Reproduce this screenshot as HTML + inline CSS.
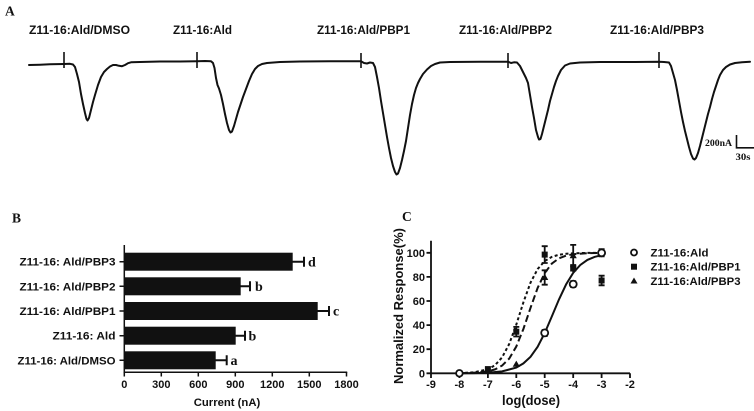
<!DOCTYPE html>
<html><head><meta charset="utf-8"><style>
html,body{margin:0;padding:0;background:#fff;}
svg{display:block;}
.sans{font-family:"Liberation Sans",Arial,sans-serif;font-weight:bold;}
.serif{font-family:"Liberation Serif","Times New Roman",serif;font-weight:bold;}
</style></head><body>
<svg width="754" height="411" viewBox="0 0 754 411" xmlns="http://www.w3.org/2000/svg">
<rect width="754" height="411" fill="#fff"/>

<!-- Panel A -->
<text x="5" y="15.5" class="serif" font-size="13.5" fill="#111">A</text>
<g class="sans" font-size="12" fill="#111">
<text x="29" y="34" textLength="101" lengthAdjust="spacingAndGlyphs">Z11-16:Ald/DMSO</text>
<text x="173" y="34" textLength="59" lengthAdjust="spacingAndGlyphs">Z11-16:Ald</text>
<text x="317" y="34" textLength="93" lengthAdjust="spacingAndGlyphs">Z11-16:Ald/PBP1</text>
<text x="459" y="34" textLength="93" lengthAdjust="spacingAndGlyphs">Z11-16:Ald/PBP2</text>
<text x="610" y="34" textLength="94" lengthAdjust="spacingAndGlyphs">Z11-16:Ald/PBP3</text>
</g>
<path fill="none" stroke="#111" stroke-width="2" stroke-linejoin="round" stroke-linecap="round" d="M29,65 L40,64.7 L50,64.3 L64,64 L70,63.8 L73,64.5 L75,67 L77,74 L79,82 L81,94 L83,104 L85,113 L86.5,119 L87.5,120.5 L89,118 L91,110 L93,102 L95,95 L98,85 L101,77 L104,72 L107,69 L110,66.5 L113,65 L116,65 L119,65.8 L122,66.2 L125,65 L128,63.2 L131,62.3 L140,62 L160,61.5 L180,61.5 L197,61.2 L205,61 L211,61.2 L213,63 L214.5,68 L216,78 L217.5,85 L219,88.5 L221,95 L223,104 L225,114 L227,123 L229,130 L230.5,132.5 L232,131.5 L234,126 L236,119 L238,112 L240,106 L243,97 L246,89 L249,81 L252,74 L255,69 L258,66 L262,64 L267,63 L280,62 L300,61.5 L330,61.3 L361,61.3 L364,63 L367,63.5 L370,62.5 L373,63 L375,67 L377,77 L379,88 L381,101 L383,113 L385,125 L387,137 L389,148 L391,158 L393,166 L395,172 L396.5,174.5 L398,173.5 L400,168 L402,160 L404,151 L406,141 L408,128 L410,115 L412,104 L414,95 L416,88 L418,83 L420,79 L423,74 L427,69.5 L431,66 L435,64 L440,62.5 L450,62 L480,61.8 L508,61.7 L511,63 L514,62.3 L517,62.5 L520,66 L523,72 L526,78 L528,83 L530,95 L532,107 L534,118 L536,130 L538,137 L539,139.5 L540.5,139 L542,134 L544,126 L546,118 L548,110 L550,101 L552,94 L554,87 L556,81 L558,76 L561,70 L565,65.5 L570,63.5 L580,62.5 L600,62 L630,62 L659,61.8 L664,62 L669,62.5 L671,66 L673,73 L675,80 L677,90 L679,101 L681,112 L683,122 L685,131 L687,139 L689,147 L691,154 L693,158.5 L694.5,159.5 L696,158 L698,153 L700,146 L702,138 L704,130 L706,122 L708,114 L710,107 L712,99 L714,92 L716,86 L718,80 L720,75 L723,70 L726,67 L730,64.5 L735,63 L742,62.3 L750,61.8"/>
<g stroke="#111" stroke-width="1.6">
<line x1="64" y1="52" x2="64" y2="68"/>
<line x1="197" y1="52" x2="197" y2="68"/>
<line x1="361" y1="53" x2="361" y2="68"/>
<line x1="508" y1="53" x2="508" y2="68"/>
<line x1="659" y1="52" x2="659" y2="68"/>
</g>
<!-- scale bar -->
<path d="M736.5,135 L736.5,147.8 L754,147.8" fill="none" stroke="#111" stroke-width="1.6"/>
<text x="705" y="146" class="serif" font-size="9" fill="#111" textLength="27" lengthAdjust="spacingAndGlyphs">200nA</text>
<text x="735.5" y="160" class="serif" font-size="9" fill="#111" textLength="15" lengthAdjust="spacingAndGlyphs">30s</text>

<!-- Panel B -->
<text x="12" y="222.5" class="serif" font-size="13.5" fill="#111">B</text>
<g fill="#111">
<rect x="124.3" y="252.7" width="168.4" height="18"/>
<rect x="124.3" y="277.3" width="116.4" height="18"/>
<rect x="124.3" y="302" width="193.4" height="18"/>
<rect x="124.3" y="326.7" width="111.4" height="18"/>
<rect x="124.3" y="351.3" width="91.4" height="18"/>
</g>
<g stroke="#111" stroke-width="2" fill="none">
<path d="M292,261.7 H304 M304,256.7 V266.7"/>
<path d="M240,286.3 H250 M250,281.3 V291.3"/>
<path d="M317,311 H329 M329,306 V316"/>
<path d="M235,335.7 H245 M245,330.7 V340.7"/>
<path d="M215,360.3 H226.7 M226.7,355.3 V365.3"/>
</g>
<g class="serif" font-size="14" fill="#111">
<text x="308" y="266.5">d</text>
<text x="255" y="291">b</text>
<text x="333" y="315.5">c</text>
<text x="248.5" y="340.5">b</text>
<text x="230.5" y="365">a</text>
</g>
<g stroke="#111" stroke-width="1.5" fill="none">
<path d="M124.3,245 V372.3 H347.2"/>
<path d="M124.3,372 V376.5 M161.3,372 V376.5 M198.3,372 V376.5 M235.3,372 V376.5 M272.3,372 V376.5 M309.3,372 V376.5 M346.5,372 V376.5"/>
<path d="M119.5,261.7 H124.3 M119.5,286.3 H124.3 M119.5,311 H124.3 M119.5,335.7 H124.3 M119.5,360.3 H124.3"/>
</g>
<g class="sans" font-size="11.3" fill="#111" text-anchor="end">
<text x="115.5" y="265.7" textLength="96" lengthAdjust="spacingAndGlyphs">Z11-16: Ald/PBP3</text>
<text x="115.5" y="290.3" textLength="96" lengthAdjust="spacingAndGlyphs">Z11-16: Ald/PBP2</text>
<text x="115.5" y="315" textLength="96" lengthAdjust="spacingAndGlyphs">Z11-16: Ald/PBP1</text>
<text x="115.5" y="339.7" textLength="63" lengthAdjust="spacingAndGlyphs">Z11-16: Ald</text>
<text x="115.5" y="364.3" textLength="98" lengthAdjust="spacingAndGlyphs">Z11-16: Ald/DMSO</text>
</g>
<g class="sans" font-size="11" fill="#111" text-anchor="middle">
<text x="124.3" y="388">0</text>
<text x="161.3" y="388">300</text>
<text x="198.3" y="388">600</text>
<text x="235.3" y="388">900</text>
<text x="272.3" y="388">1200</text>
<text x="309.3" y="388">1500</text>
<text x="346.5" y="388">1800</text>
<text x="227" y="406" font-size="11.3">Current (nA)</text>
</g>

<!-- Panel C -->
<text x="402" y="221" class="serif" font-size="13.5" fill="#111">C</text>
<g stroke="#111" stroke-width="1.8" fill="none">
<path d="M431,240.7 V373.3 H630"/>
<path d="M431,373.3 V378 M459.4,373.3 V378 M487.9,373.3 V378 M516.3,373.3 V378 M544.7,373.3 V378 M573.2,373.3 V378 M601.6,373.3 V378 M630,373.3 V378"/>
<path d="M426.5,373.3 H431 M426.5,349.2 H431 M426.5,325.1 H431 M426.5,301 H431 M426.5,276.9 H431 M426.5,252.8 H431"/>
</g>
<g class="sans" font-size="11" fill="#111" text-anchor="end">
<text x="425" y="377.3">0</text>
<text x="425" y="353.2">20</text>
<text x="425" y="329.1">40</text>
<text x="425" y="305">60</text>
<text x="425" y="280.9">80</text>
<text x="425" y="256.8">100</text>
</g>
<g class="sans" font-size="11" fill="#111" text-anchor="middle">
<text x="431" y="388">-9</text>
<text x="459.4" y="388">-8</text>
<text x="487.9" y="388">-7</text>
<text x="516.3" y="388">-6</text>
<text x="544.7" y="388">-5</text>
<text x="573.2" y="388">-4</text>
<text x="601.6" y="388">-3</text>
<text x="630" y="388">-2</text>
</g>
<text x="531" y="405" class="sans" font-size="14" fill="#111" text-anchor="middle" textLength="58" lengthAdjust="spacingAndGlyphs">log(dose)</text>
<text transform="translate(403,306) rotate(-90)" class="sans" font-size="13" fill="#111" text-anchor="middle" textLength="156" lengthAdjust="spacingAndGlyphs">Normalized Response(%)</text>

<!-- curves -->
<g fill="none" stroke="#111" stroke-width="2">
<polyline points="459.4,373.2 473.6,373.1 487.9,372.7 502.1,371.4 516.3,367.6 523.4,363.4 530.5,356.8 537.6,346.8 544.7,333.1 551.8,316.5 559,299.4 566.1,284.4 573.2,272.8 580.3,265 587.4,259.9 594.5,256.9 601.6,255.2"/>
<polyline stroke-dasharray="3,2.5" points="459.4,373.1 473.6,372.4 487.9,369.3 495,365.2 502.1,357.4 509.2,344 516.3,324.6 523.4,302.3 530.5,282.7 537.6,269.1 544.7,261.1 551.8,256.9 559,254.7 566.1,253.8 573.2,253.3 587.4,252.9 601.6,252.8"/>
<polyline stroke-dasharray="7,3.5" points="459.4,373.2 473.6,372.8 487.9,371.4 495,369.4 502.1,365.6 509.2,358.6 516.3,346.5 523.4,329 530.5,307.9 537.6,288 544.7,273.1 551.8,263.6 559,258.3 566.1,255.6 573.2,254.2 587.4,253.2 601.6,253"/>
</g>
<!-- error bars -->
<g stroke="#111" stroke-width="1.8" fill="none">
<path d="M516.3,326.9 V336.5 M513.3,326.9 H519.3 M513.3,336.5 H519.3"/>
<path d="M544.7,246.2 V263 M541.7,246.2 H547.7 M541.7,263 H547.7"/>
<path d="M544.7,270.3 V284.7 M541.7,270.3 H547.7 M541.7,284.7 H547.7"/>
<path d="M544.7,330 V336 M541.7,330 H547.7 M541.7,336 H547.7"/>
<path d="M573.2,281.2 V287 M570.2,281.2 H576.2 M570.2,287 H576.2"/>
<path d="M573.2,244.9 V266.5 M570.2,244.9 H576.2 M570.2,266.5 H576.2"/>
<path d="M573.2,265 V272 M570.2,265 H576.2"/>
<path d="M601.6,249.2 V256.4 M598.6,249.2 H604.6 M598.6,256.4 H604.6"/>
<path d="M601.6,275.7 V285.3 M598.6,275.7 H604.6 M598.6,285.3 H604.6"/>
</g>
<!-- markers -->
<g fill="#111">
<rect x="456.4" y="370.3" width="6" height="6"/>
<rect x="484.9" y="366.1" width="6" height="6"/>
<rect x="513.3" y="328.7" width="6" height="6"/>
<rect x="541.7" y="251.6" width="6" height="6"/>
<rect x="570.2" y="265.5" width="6" height="6"/>
<rect x="598.6" y="277.5" width="6" height="6"/>
<polygon points="487.9,367.8 491.5,374 484.3,374"/>
<polygon points="516.3,360.6 519.9,366.8 512.7,366.8"/>
<polygon points="544.7,273.8 548.3,280 541.1,280"/>
<polygon points="573.2,252 576.8,258.2 569.6,258.2"/>
</g>
<g fill="#fff" stroke="#111" stroke-width="1.8">
<circle cx="459.4" cy="373.3" r="3.3"/>
<circle cx="544.7" cy="332.9" r="3.5"/>
<circle cx="573.2" cy="284.1" r="3.5"/>
<circle cx="601.6" cy="252.8" r="3.5"/>
</g>
<!-- legend -->
<circle cx="634" cy="252.5" r="3" fill="#fff" stroke="#111" stroke-width="1.8"/>
<rect x="631" y="263.7" width="6" height="6" fill="#111"/>
<polygon points="634,277.5 637.5,283.5 630.5,283.5" fill="#111"/>
<g class="sans" font-size="11.3" fill="#111">
<text x="650.5" y="256.5" textLength="58" lengthAdjust="spacingAndGlyphs">Z11-16:Ald</text>
<text x="650.5" y="270.7" textLength="90" lengthAdjust="spacingAndGlyphs">Z11-16:Ald/PBP1</text>
<text x="650.5" y="285" textLength="90" lengthAdjust="spacingAndGlyphs">Z11-16:Ald/PBP3</text>
</g>
</svg>
</body></html>
